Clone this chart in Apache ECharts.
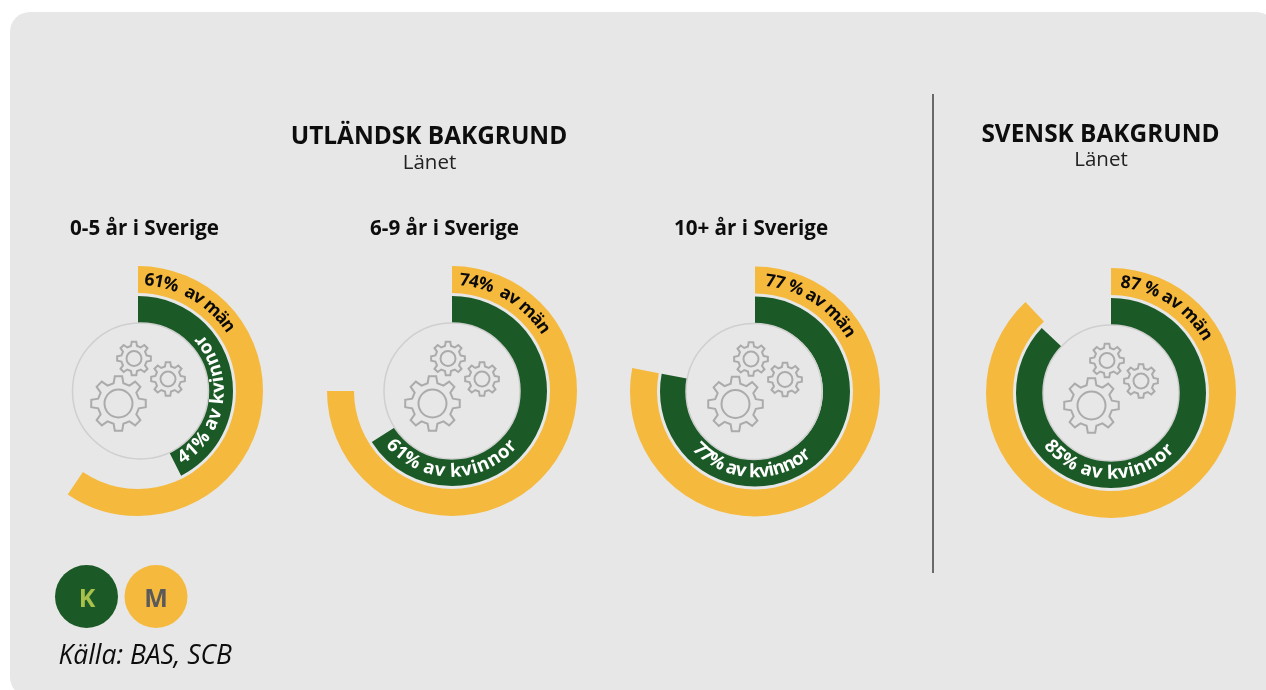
<!DOCTYPE html>
<html><head><meta charset="utf-8">
<style>html,body{margin:0;padding:0;background:#fff}#c{width:1266px;height:690px}</style>
<script src="https://cdn.jsdelivr.net/npm/echarts@6/dist/echarts.min.js"></script>
</head><body><div id="c"></div>
<script>
const groups = ['0-5 år i Sverige','6-9 år i Sverige','10+ år i Sverige','Svensk bakgrund'];
// Arc extents as drawn in the picture (the printed percentages are in the label arrays)
const womenValues = [42.5,66,78,87];
const menValues = [59.5,75,78,88];
const womenLabels = ['41% av kvinnor','61% av kvinnor','77% av kvinnor','85% av kvinnor'];
const menLabels = ['61%  av män','74%  av män','77 % av män','87 % av män'];

const GREEN='#1b5a26', YELLOW='#f5b93d', PANEL='#e7e7e7', FONT='"Open Sans"';
const centers=[[138,391],[452,391],[755,391.5],[1111,393]];
const hubOffset=[2.5,0,-1,0];
const womenArc=[[149,48],[231,130],[227,139],[232,132]];
const menArc=[[3.5,57],[4,58],[5.5,60],[5,61]];
const chart=echarts.init(document.getElementById('c'),null,{renderer:'canvas'});
const ctx=document.createElement('canvas').getContext('2d');

function curved(text,c,a0,a1,r,fill,font){
  ctx.font=font;
  const ws=[...text].map(ch=>ctx.measureText(ch).width);
  const total=ws.reduce((a,b)=>a+b,0);
  const span=a1-a0, k=span/total;
  let pos=0; const out=[];
  [...text].forEach((ch,i)=>{
    const th=(a0+(pos+ws[i]/2)*k)*Math.PI/180; pos+=ws[i];
    if(ch===' ')return;
    const inward=span<0;
    out.push({type:'text',z:10,silent:true,x:c[0]+r*Math.sin(th),y:c[1]-r*Math.cos(th),
      rotation:inward?Math.PI-th:-th,
      style:{text:ch,font,fill,align:'center',verticalAlign:'middle'}});
  });
  return out;
}
function gear(cx,cy,R,hole,teeth){
  const pts=[],ri=R*0.76,st=Math.PI*2/teeth;
  for(let i=0;i<teeth;i++){
    const a=i*st;
    [[-.30,ri],[-.17,R],[.17,R],[.30,ri]].forEach(p=>{
      const t=a+p[0]*st;pts.push([cx+p[1]*Math.cos(t),cy+p[1]*Math.sin(t)]);
    });
  }
  const st2={fill:'none',stroke:'#ababab',lineWidth:2};
  return [{type:'polygon',z:10,silent:true,shape:{points:pts},style:st2},
          {type:'circle',z:10,silent:true,shape:{cx,cy,r:hole},style:st2}];
}
const txt=(text,x,y,font,fill,align)=>({type:'text',z:10,silent:true,x,y,style:{text,font,fill:fill||'#0d0d0d',align:align||'center',verticalAlign:'middle'}});

const series=[];const gfx=[];
gfx.push({type:'rect',z:-10,silent:true,shape:{x:10,y:12,width:1266,height:685,r:20},style:{fill:PANEL}});
groups.forEach((g,i)=>{
  const c=centers[i];
  const ring=(name,val,inner,outer,color)=>({type:'pie',name:name+' '+g,silent:true,animation:false,center:c,radius:[inner,outer],
    startAngle:90,clockwise:true,label:{show:false},labelLine:{show:false},emphasis:{disabled:true},
    data:[{value:val,itemStyle:{color}},{value:100-val,itemStyle:{color:'rgba(0,0,0,0)'}}]});
  series.push(ring('Män',menValues[i],98,125,YELLOW));
  series.push(ring('Kvinnor',womenValues[i],68,95,GREEN));
  gfx.push({type:'circle',z:5,silent:true,shape:{cx:c[0]+hubOffset[i],cy:c[1],r:68},style:{fill:PANEL,stroke:'#cfcfcf',lineWidth:1.5}});
  gfx.push(...gear(c[0]-4,c[1]-32.5,17,7.5,8),...gear(c[0]+30,c[1]-12,17,7.5,8),...gear(c[0]-19.5,c[1]+12.5,27.5,14,8));
  gfx.push(...curved(menLabels[i],c,menArc[i][0],menArc[i][1],111,'#0a0a0a','bold 17.5px '+FONT));
  gfx.push(...curved(womenLabels[i],c,womenArc[i][0],womenArc[i][1],80.5,'#ffffff','bold 18.5px '+FONT));
});
gfx.push(txt('UTLÄNDSK BAKGRUND',429,137,'bold 24.4px '+FONT));
gfx.push(txt('Länet',429.5,163,'20.5px '+FONT,'#222'));
gfx.push(txt('SVENSK BAKGRUND',1100.5,135,'bold 24.4px '+FONT));
gfx.push(txt('Länet',1101,160,'20.5px '+FONT,'#222'));
[[144.5,0],[444.5,1],[751,2]].forEach(p=>gfx.push(txt(groups[p[1]],p[0],229,'bold 20.6px '+FONT)));
gfx.push({type:'line',z:10,silent:true,shape:{x1:933,y1:94,x2:933,y2:573},style:{stroke:'#6a6a6a',lineWidth:2}});
gfx.push({type:'circle',z:10,silent:true,shape:{cx:86.5,cy:596.5,r:31.5},style:{fill:GREEN}});
gfx.push({type:'circle',z:10,silent:true,shape:{cx:156,cy:596.5,r:31.5},style:{fill:YELLOW}});
gfx.push(txt('K',87,600,'bold 25px '+FONT,'#a8c04c'));
gfx.push(txt('M',156,600,'bold 25px '+FONT,'#5a5a5a'));
gfx.push(txt('Källa: BAS, SCB',58.5,656.5,'italic 26.4px '+FONT,'#0d0d0d','left'));
chart.setOption({animation:false,backgroundColor:'#fff',series,graphic:{elements:gfx}});
</script></body></html>
